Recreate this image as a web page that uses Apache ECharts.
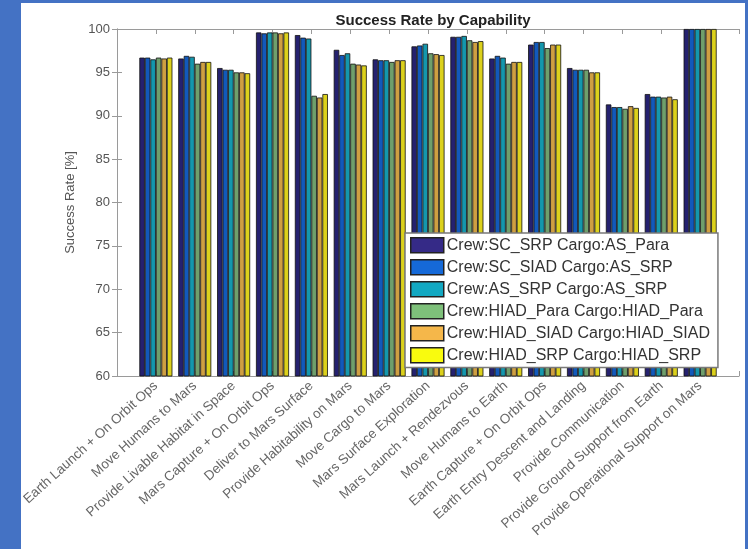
<!DOCTYPE html>
<html>
<head>
<meta charset="utf-8">
<script src="https://cdn.jsdelivr.net/npm/echarts@6/dist/echarts.min.js"></script>
<style>
  body { margin: 0; }
  #frame {
    position: absolute; left: 0; top: 0; width: 748px; height: 549px;
    box-sizing: border-box; background: #fff;
    border-left: 21px solid #4472c4; border-top: 3px solid #4472c4; border-right: 3px solid #4472c4;
  }
  #main { position: absolute; left: 0; top: 0; width: 748px; height: 549px; }
</style>
</head>
<body>
<div id="frame"></div>
<div id="main"></div>
<script>
var categories = ['Earth Launch + On Orbit Ops', 'Move Humans to Mars', 'Provide Livable Habitat in Space',
  'Mars Capture + On Orbit Ops', 'Deliver to Mars Surface', 'Provide Habitability on Mars', 'Move Cargo to Mars',
  'Mars Surface Exploration', 'Mars Launch + Rendezvous', 'Move Humans to Earth', 'Earth Capture + On Orbit Ops',
  'Earth Entry Descent and Landing', 'Provide Communication', 'Provide Ground Support from Earth',
  'Provide Operational Support on Mars'];

var seriesNames = ['Crew:SC_SRP Cargo:AS_Para', 'Crew:SC_SIAD Cargo:AS_SRP', 'Crew:AS_SRP Cargo:AS_SRP',
  'Crew:HIAD_Para Cargo:HIAD_Para', 'Crew:HIAD_SIAD Cargo:HIAD_SIAD', 'Crew:HIAD_SRP Cargo:HIAD_SRP'];

var scSrp    = [96.7, 96.6, 95.5, 99.6, 99.3, 97.6, 96.5, 98.0, 99.1, 96.6, 98.2, 95.5, 91.3, 92.5, 100];
var scSiad   = [96.7, 96.9, 95.3, 99.5, 99.0, 97.0, 96.4, 98.1, 99.1, 96.9, 98.5, 95.3, 91.0, 92.2, 100];
var asSrp    = [96.5, 96.8, 95.3, 99.6, 98.9, 97.2, 96.4, 98.3, 99.2, 96.7, 98.5, 95.3, 91.0, 92.2, 100];
var hiadPara = [96.7, 96.0, 95.0, 99.6, 92.3, 96.0, 96.2, 97.2, 98.7, 96.0, 97.8, 95.3, 90.8, 92.1, 100];
var hiadSiad = [96.6, 96.2, 95.0, 99.5, 92.1, 95.9, 96.4, 97.1, 98.5, 96.2, 98.2, 95.0, 91.1, 92.2, 100];
var hiadSrp  = [96.7, 96.2, 94.9, 99.6, 92.5, 95.8, 96.4, 97.0, 98.6, 96.2, 98.2, 95.0, 90.9, 91.9, 100];

var allValues = [scSrp, scSiad, asSrp, hiadPara, hiadSiad, hiadSrp];
// legend swatches are brighter than the (blurred, edged) bars
var legendColors = ['#352a87', '#1569d8', '#12a8c2', '#7ec07a', '#f5b74a', '#f9fb0e'];
var barColors = ['#25216f', '#1259bb', '#1497ad', '#6f9f6c', '#cf9f42', '#dcd11c'];

var font = 'Liberation Sans, Arial, Helvetica, sans-serif';
var axisColor = '#9a9a9a';

var myChart = echarts.init(document.getElementById('main'));

var series = seriesNames.map(function (name, k) {
  return {
    name: name,
    type: 'bar',
    barGap: '0%',
    barCategoryGap: '15%',
    itemStyle: { color: barColors[k], borderColor: '#111', borderWidth: 0.8 },
    data: allValues[k].map(function (v, i) { return [i + 1, v]; })
  };
});

option = {
  backgroundColor: 'transparent',
  animation: false,
  title: {
    text: 'Success Rate by Capability',
    left: 428, top: 8, textAlign: 'center',
    textStyle: { fontFamily: font, fontSize: 15, fontWeight: 'bold', color: '#222' }
  },
  legend: {
    orient: 'vertical',
    left: 405, top: 233,
    width: 315,
    itemWidth: 33, itemHeight: 15, itemGap: 5.5,
    padding: [4, 8, 4, 5],
    backgroundColor: '#fff',
    borderColor: '#7a7a7a', borderWidth: 1.5,
    icon: 'rect',
    textStyle: { fontFamily: font, fontSize: 16, color: '#333', padding: [0, 0, 0, -2] },
    data: seriesNames.map(function (n, k) {
      return { name: n, itemStyle: { color: legendColors[k], borderColor: '#222', borderWidth: 1.5 } };
    })
  },
  grid: { left: 117, top: 29, right: 9, bottom: 173 },
  xAxis: [{
    type: 'value', min: 0, max: 16, interval: 1,
    axisLine: { lineStyle: { color: axisColor } },
    axisTick: { inside: true, length: 5, lineStyle: { color: axisColor } },
    splitLine: { show: false },
    axisLabel: {
      rotate: 42, margin: 8, fontFamily: font, fontSize: 13.5, color: '#666',
      formatter: function (v) { return categories[v - 1] || ''; }
    }
  }, {
    type: 'value', min: 0, max: 16, interval: 1, position: 'top',
    axisLine: { lineStyle: { color: axisColor } },
    axisTick: { inside: true, length: 5, lineStyle: { color: axisColor } },
    splitLine: { show: false },
    axisLabel: { show: false }
  }],
  yAxis: [{
    type: 'value', min: 60, max: 100, interval: 5,
    name: 'Success Rate [%]', nameLocation: 'middle', nameGap: 38,
    nameTextStyle: { fontFamily: font, fontSize: 13, color: '#555' },
    axisLine: { show: true, lineStyle: { color: axisColor } },
    axisTick: { show: true, inside: true, length: 5, lineStyle: { color: axisColor } },
    splitLine: { show: false },
    axisLabel: { margin: 7, fontFamily: font, fontSize: 13, color: '#555' }
  }, {
    type: 'value', min: 60, max: 100, interval: 5, position: 'right',
    axisLine: { show: true, lineStyle: { color: axisColor } },
    axisTick: { show: true, inside: true, length: 5, lineStyle: { color: axisColor } },
    splitLine: { show: false },
    axisLabel: { show: false }
  }],
  series: series
};
myChart.setOption(option);
</script>
</body>
</html>
